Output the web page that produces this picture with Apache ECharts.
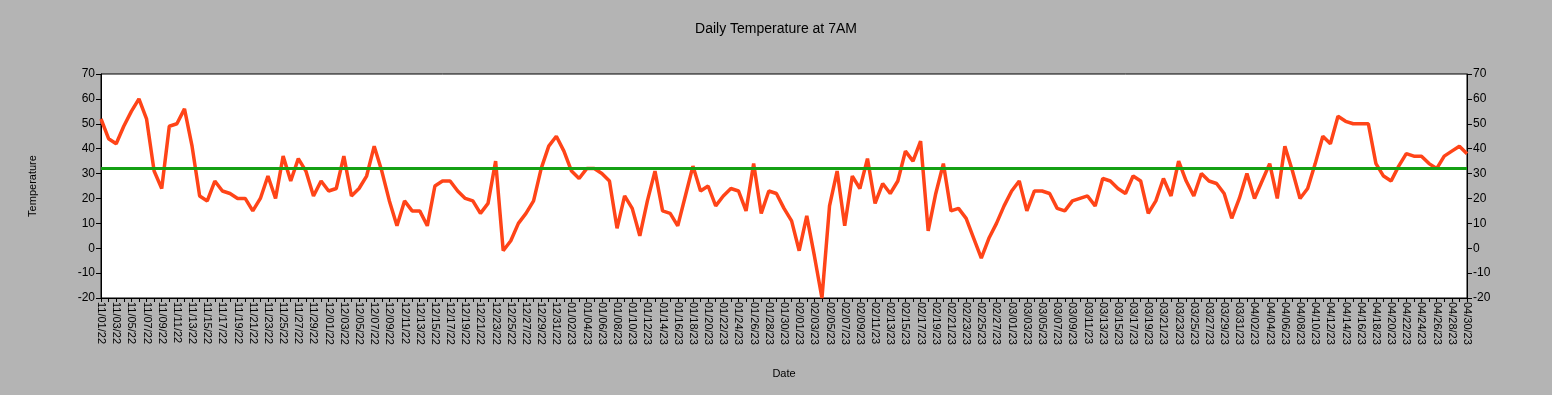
<!DOCTYPE html>
<html>
<head>
<meta charset="utf-8">
<script src="https://cdn.jsdelivr.net/npm/echarts@6/dist/echarts.min.js"></script>
<style>
html,body{margin:0;padding:0;background:#b4b4b4;}
#chart{width:1552px;height:395px;}
</style>
</head>
<body>
<div id="chart"></div>
<script>
const startDate = '2022-11-01';
const dayCount = 181;
const temperatures = [
52,44,42,49,55,60,52,31,24,49,50,56,41,21,19,27,23,22,20,20,
15,20,29,20,37,27,36,31,21,27,23,24,37,21,24,29,41,31,19,9,
19,15,15,9,25,27,27,23,20,19,14,18,35,-1,3,10,14,19,32,41,
45,39,31,28,32,32,30,27,8,21,16,5,19,31,15,14,9,21,33,23,
25,17,21,24,23,15,34,14,23,22,16,11,-1,13,-3,-20,17,31,9,29,
24,36,18,26,22,27,39,35,43,7,22,34,15,16,12,4,-4,4,10,17,
23,27,15,23,23,22,16,15,19,20,21,17,28,27,24,22,29,27,14,19,
28,21,35,27,21,30,27,26,22,12,20,30,20,27,34,20,41,31,20,24,
34,45,42,53,51,50,50,50,34,29,27,33,38,37,37,34,32,37,39,41,
38
];
const averageTemp = 32;
const yTicks = {min: -20, max: 70, interval: 10};

const dates = [];
{
  const d = new Date(startDate + 'T12:00:00Z');
  for (let i = 0; i < dayCount; i++) {
    const mm = String(d.getUTCMonth() + 1).padStart(2, '0');
    const dd = String(d.getUTCDate()).padStart(2, '0');
    const yy = String(d.getUTCFullYear() % 100).padStart(2, '0');
    dates.push(mm + '/' + dd + '/' + yy);
    d.setUTCDate(d.getUTCDate() + 1);
  }
}

const font = 'Liberation Sans, Arial, sans-serif';
const chart = echarts.init(document.getElementById('chart'), null, {renderer: 'canvas'});
const yAxisCommon = {
  type: 'value',
  min: yTicks.min, max: yTicks.max, interval: yTicks.interval,
  axisLine: {show: true, onZero: false, lineStyle: {color: '#000', width: 1}},
  axisTick: {show: true, inside: false, length: 5, lineStyle: {color: '#000'}},
  splitLine: {show: false},
  axisLabel: {color: '#000', fontFamily: font, fontSize: 12, margin: 6}
};
chart.setOption({
  backgroundColor: '#b4b4b4',
  animation: false,
  title: {
    text: 'Daily Temperature at 7AM',
    left: 'center', top: 17,
    textStyle: {color: '#000', fontFamily: font, fontSize: 14, fontWeight: 'normal'}
  },
  grid: {left: 101, right: 85, top: 74, bottom: 97, show: true, backgroundColor: '#fff', borderColor: '#000', borderWidth: 1},
  xAxis: {
    type: 'category',
    data: dates,
    boundaryGap: false,
    name: 'Date',
    nameLocation: 'middle',
    nameGap: 70,
    nameTextStyle: {color: '#000', fontFamily: font, fontSize: 11},
    axisLine: {show: true, onZero: false, lineStyle: {color: '#000'}},
    axisTick: {show: true, interval: 0, length: 4, lineStyle: {color: '#000'}},
    axisLabel: {interval: 1, rotate: -90, color: '#000', fontFamily: font, fontSize: 11, margin: 4}
  },
  yAxis: [
    Object.assign({}, yAxisCommon, {
      position: 'left',
      name: 'Temperature',
      nameLocation: 'middle',
      nameGap: 63,
      nameRotate: 90,
      nameTextStyle: {color: '#000', fontFamily: font, fontSize: 11}
    }),
    Object.assign({}, yAxisCommon, {position: 'right'})
  ],
  series: [{
    type: 'line',
    data: temperatures,
    symbol: 'none',
    lineStyle: {color: '#ff4418', width: 3.5},
    itemStyle: {color: '#ff4418'},
    markLine: {
      silent: true,
      symbol: ['none', 'none'],
      label: {show: false},
      lineStyle: {color: '#14a014', width: 3, type: 'solid'},
      data: [{yAxis: averageTemp}]
    },
    z: 3
  }]
});
</script>
</body>
</html>
